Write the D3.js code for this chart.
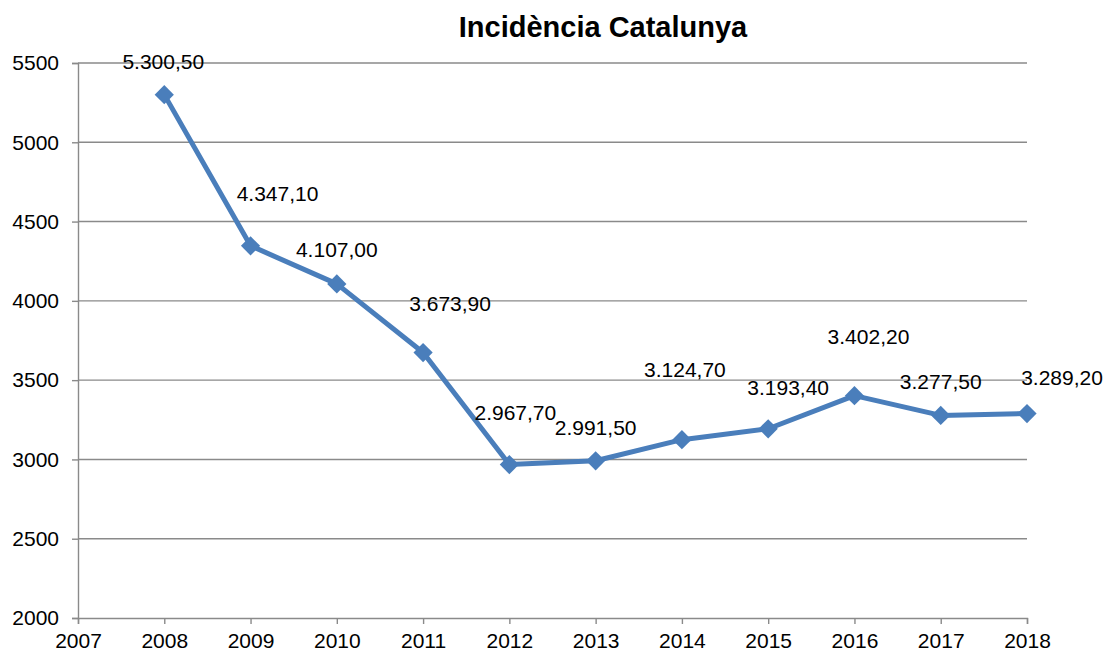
<!DOCTYPE html>
<html>
<head>
<meta charset="utf-8">
<script src="https://cdn.jsdelivr.net/npm/d3@7"></script>
<style>
  body { margin: 0; background: #fff; }
  text { font-family: "Liberation Sans", Arial, sans-serif; fill: #000; }
</style>
</head>
<body>
<div id="chart"></div>
<script>
// data
var years = [2008, 2009, 2010, 2011, 2012, 2013, 2014, 2015, 2016, 2017, 2018];
var incidencia = [5300.5, 4347.1, 4107.0, 3673.9, 2967.7, 2991.5, 3124.7, 3193.4, 3402.2, 3277.5, 3289.2];
var xTicks = [2007, 2008, 2009, 2010, 2011, 2012, 2013, 2014, 2015, 2016, 2017, 2018];
var yTicks = [2000, 2500, 3000, 3500, 4000, 4500, 5000, 5500];

// label nudges (px) as placed by hand in the original
var labelDx = [-1, 27, 0, 27, 6, 0, 3, 20, 14, 0, 35];
var labelDy = [-26, -45, -27, -42, -45, -26, -63, -34, -52, -26, -29];

const width = 1109;
const height = 653;

var svg = d3.select("#chart")
    .append("svg")
    .attr("width", width)
    .attr("height", height);

var x = d3.scaleLinear().domain([2007, 2018]).range([78, 1027]);
var y = d3.scaleLinear().domain([2000, 5500]).range([618, 63]);

var fmt = d3.formatLocale({decimal: ",", thousands: ".", grouping: [3], currency: ["", ""]}).format(",.2f");

// gridlines
svg.append("g")
  .selectAll("line")
  .data(yTicks.slice(1))
  .enter().append("line")
    .attr("x1", x(2007))
    .attr("x2", x(2018))
    .attr("y1", function(d) { return y(d); })
    .attr("y2", function(d) { return y(d); })
    .style("stroke", "#8a8a8a")
    .style("stroke-width", 1.4);

// y axis
var yAxis = svg.append("g")
    .attr("transform", "translate(" + x(2007) + ",0)")
    .call(d3.axisLeft(y).tickValues(yTicks).tickSize(6).tickPadding(13).tickFormat(d3.format("d")));

// x axis
var xAxis = svg.append("g")
    .attr("transform", "translate(0," + y(2000) + ")")
    .call(d3.axisBottom(x).tickValues(xTicks).tickSize(6).tickPadding(9).tickFormat(d3.format("d")));

[yAxis, xAxis].forEach(function(a) {
  a.select(".domain").style("stroke", "#8a8a8a").style("stroke-width", 1.4);
  a.selectAll(".tick line").style("stroke", "#8a8a8a").style("stroke-width", 1.4);
  a.selectAll(".tick text")
    .style("font-family", '"Liberation Sans", Arial, sans-serif')
    .style("font-size", "21px")
    .style("fill", "#000");
});

var line = d3.line()
    .x(function(d, i) { return x(years[i]); })
    .y(function(d) { return y(d); });

svg.append("path")
    .datum(incidencia)
    .attr("d", line)
    .style("fill", "none")
    .style("stroke", "#4a7ebb")
    .style("stroke-width", 5)
    .style("stroke-linejoin", "round");

svg.append("g")
  .selectAll("path")
  .data(incidencia)
  .enter().append("path")
    .attr("d", d3.symbol().type(d3.symbolSquare).size(185))
    .attr("transform", function(d, i) { return "translate(" + x(years[i]) + "," + y(d) + ") rotate(45)"; })
    .style("fill", "#4a7ebb");

svg.append("g")
  .selectAll("text")
  .data(incidencia)
  .enter().append("text")
    .attr("x", function(d, i) { return x(years[i]) + labelDx[i]; })
    .attr("y", function(d, i) { return y(d) + labelDy[i]; })
    .attr("text-anchor", "middle")
    .style("font-size", "21px")
    .text(function(d) { return fmt(d); });

svg.append("text")
    .attr("x", 603)
    .attr("y", 37)
    .attr("text-anchor", "middle")
    .style("font-size", "29px")
    .style("font-weight", "bold")
    .text("Incidència Catalunya");
</script>
</body>
</html>
